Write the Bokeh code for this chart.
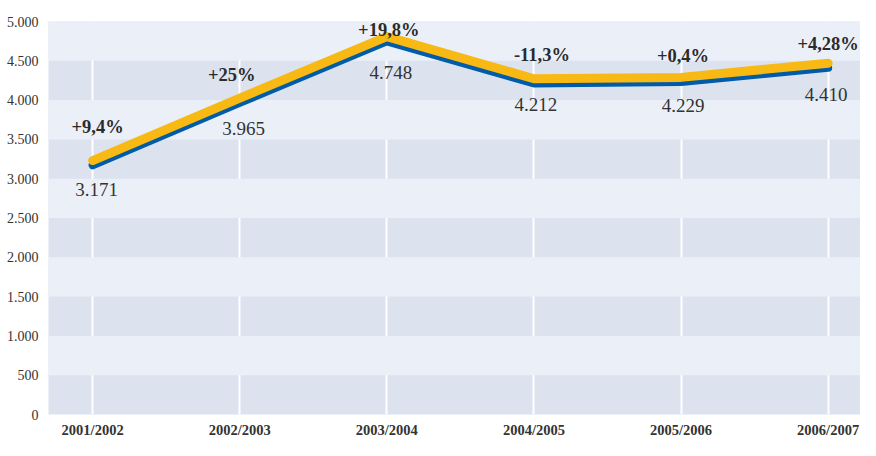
from bokeh.plotting import figure
from bokeh.models import ColumnDataSource, FixedTicker, Range1d
from bokeh.transform import dodge
from bokeh.core.properties import value
from bokeh.embed import file_html
from bokeh.resources import INLINE

# ---- data ----
seasons = ["2001/2002", "2002/2003", "2003/2004", "2004/2005", "2005/2006", "2006/2007"]
students = [3171, 3965, 4748, 4212, 4229, 4410]
changes = ["+9,4%", "+25%", "+19,8%", "-11,3%", "+0,4%", "+4,28%"]
y_ticks = [0, 500, 1000, 1500, 2000, 2500, 3000, 3500, 4000, 4500, 5000]
y_tick_labels = ["0", "500", "1.000", "1.500", "2.000", "2.500", "3.000", "3.500", "4.000", "4.500", "5.000"]

# ---- label placement (pixels, layout only) ----
chg_dx = [5, -8, 2, 8, 2, 0]
chg_dy = [-38, -28, -11, -28, -26, -24]
val_dx = [4, 4, 4, 2, 2, -2]
val_dy = [24, 26, 31, 21, 23, 27]

def fmt(v):
    return f"{v:,}".replace(",", ".")

xs = list(range(len(seasons)))
src = ColumnDataSource(dict(x=xs, y=students, lbl=[fmt(v) for v in students], chg=changes,
                            cdx=chg_dx, cdy=chg_dy, vdx=val_dx, vdy=val_dy))

FONT = "Liberation Serif"

p = figure(width=860, height=440, output_backend="svg", toolbar_location=None,
           x_range=Range1d(-0.3, 5.22), y_range=Range1d(0, 5000),
           min_border_left=48, min_border_top=21, min_border_bottom=18, min_border_right=0)
p.outline_line_color = None
p.background_fill_color = "#dce3ef"
p.border_fill_color = "white"

# grid
p.ygrid.ticker = FixedTicker(ticks=y_ticks)
p.ygrid.grid_line_color = None
p.ygrid.band_fill_color = "#ebf0f8"
p.ygrid.band_fill_alpha = 1.0
p.xgrid.ticker = FixedTicker(ticks=xs)
p.xgrid.grid_line_color = "white"
p.xgrid.grid_line_width = 2

# axes
p.yaxis.ticker = FixedTicker(ticks=y_ticks)
p.yaxis.major_label_overrides = {t: l for t, l in zip(y_ticks, y_tick_labels)}
p.xaxis.ticker = FixedTicker(ticks=xs)
p.xaxis.major_label_overrides = {i: s for i, s in enumerate(seasons)}
for ax in (p.xaxis[0], p.yaxis[0]):
    ax.axis_line_color = None
    ax.major_tick_line_color = None
    ax.minor_tick_line_color = None
    ax.major_label_text_font = FONT
    ax.major_label_text_color = "#333333"
    ax.major_label_text_font_size = "14px"
p.xaxis.major_label_standoff = 1
p.xaxis.major_label_text_font_size = "14.5px"
p.xaxis.major_label_text_font_style = "bold"
p.yaxis.major_label_standoff = 4

# lines
p.line("x", "y", source=src, line_color="#005ca8", line_width=8, line_cap="round", line_join="round")
p.line("x", dodge("y", 60), source=src, line_color="#f9b915", line_width=9, line_cap="round", line_join="round")

# labels
p.text("x", "y", text="chg", source=src, text_font=value(FONT), text_font_style="bold",
       text_font_size="18.5px", text_color="#2b2b2b", text_align="center", text_baseline="middle",
       x_offset="cdx", y_offset="cdy")
p.text("x", "y", text="lbl", source=src, text_font=value(FONT),
       text_font_size="19px", text_color="#333333", text_align="center", text_baseline="middle",
       x_offset="vdx", y_offset="vdy")

open("out.html", "w").write(file_html(p, INLINE))
